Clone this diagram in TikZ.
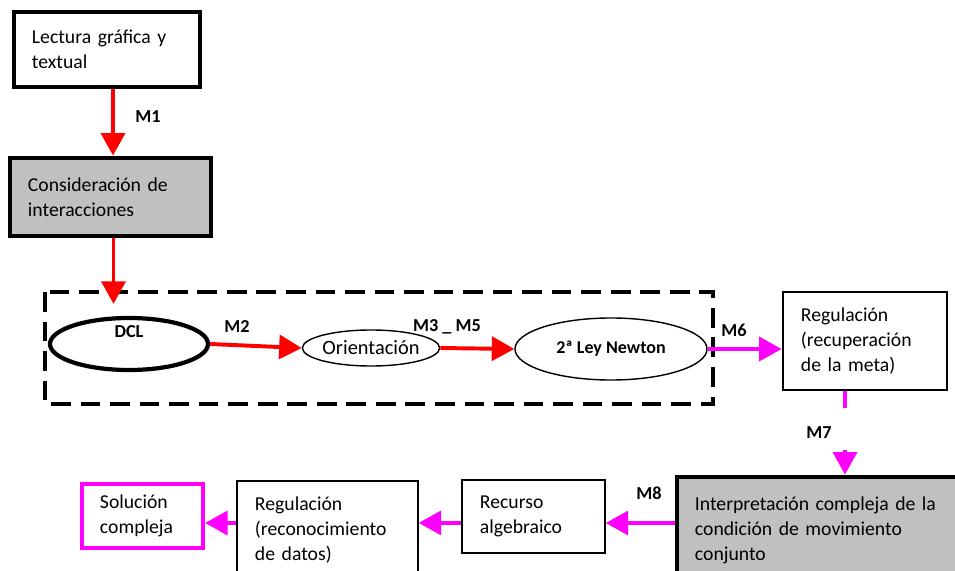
\documentclass[tikz,border=0pt]{standalone}
\usepackage{fontspec}
\setmainfont{Carlito}
\usepackage{xcolor}
\usetikzlibrary{shapes,arrows.meta,positioning,calc}
\definecolor{flowred}{RGB}{255,0,0}
\definecolor{flowpink}{RGB}{255,0,255}
\definecolor{boxgray}{RGB}{192,192,192}

\tikzset{
	textbox/.style={draw, rectangle, align=left, inner xsep=0.45cm, inner ysep=0pt,
		font=\fontsize{14pt}{17.7pt}\selectfont},
	stage/.style={draw, ellipse, inner sep=0pt},
	redarrow/.style={line width=2.8pt, flowred, -{Triangle[length=16pt,width=17pt]}},
	pinkarrow/.style={line width=2.8pt, flowpink, -{Triangle[length=16pt,width=17pt]}},
	mlabel/.style={font=\fontsize{13pt}{15pt}\selectfont\bfseries}
}

\begin{document}
\begin{tikzpicture}[x=0.025cm, y=-0.025cm]
				\clip (0,0) rectangle (955,571);
				\fill[white] (0,0) rectangle (955,571);

				% Boxes of the upper chain
				\node[textbox, line width=3.5pt, minimum width=4.65cm, minimum height=1.875cm, text width=3.75cm] (lectura) at (107,49.5) {Lectura gráfica y\\textual};
				\node[textbox, line width=3.5pt, fill=boxgray, minimum width=5.025cm, minimum height=1.95cm, text width=4.125cm] (consid) at (110.5,197) {Consideración de\\interacciones};

				% Dashed frame with the three stages
				\draw[line width=3.5pt, dash pattern=on 14pt off 7pt] (45,292) rectangle (713,404);
				\node[stage, line width=3pt, minimum width=3.95cm, minimum height=1.3cm, text height=0.2cm, text depth=0.5cm,
					font=\fontsize{13pt}{15pt}\selectfont\bfseries] (dcl) at (129,344) {DCL};
				\node[stage, line width=1pt, minimum width=3.3cm, minimum height=0.9cm,
					font=\fontsize{14.5pt}{16pt}\selectfont] (orient) at (371,348) {Orientación};
				\node[stage, line width=1pt, minimum width=4.8cm, minimum height=1.55cm,
					font=\fontsize{12.8pt}{14pt}\selectfont\bfseries] (newton) at (611,349) {2ª Ley Newton};

				\node[textbox, line width=2pt, minimum width=4.1cm, minimum height=2.45cm, text width=3.2cm] (reg1) at (865,341) {Regulación\\(recuperación\\de la meta)};

				% Boxes of the lower chain
				\node[textbox, line width=3.5pt, fill=boxgray, minimum width=7.575cm, minimum height=2.65cm, text width=6.675cm] (interp) at (828.5,530) {Interpretación compleja de la\\condición de movimiento\\conjunto};
				\node[textbox, line width=1pt, minimum width=3.575cm, minimum height=1.825cm, text width=2.675cm] (recurso) at (533.5,516.5) {Recurso\\algebraico};
				\node[textbox, line width=1pt, minimum width=4.525cm, minimum height=2.45cm, text width=3.625cm] (reg2) at (327.5,530) {Regulación\\(reconocimiento\\de datos)};
				\node[textbox, draw=flowpink, line width=3pt, minimum width=3.025cm, minimum height=1.6cm, text width=2.125cm] (sol) at (142.5,516) {Solución\\compleja};

				% Red connections
				\draw[redarrow] ([xshift=0.15cm]lectura.south) -- ([xshift=0.15cm]lectura.south |- consid.north);
				\draw[redarrow, shorten >=0.3cm] ([xshift=0.075cm]consid.south) -- ([xshift=0.075cm]consid.south |- dcl.north);
				\draw[redarrow] (dcl.east) -- (orient.west);
				\draw[redarrow] (orient.east) -- (newton.west);

				% Pink connections
				\coordinate (m7a) at (845,408);
				\coordinate (m7b) at (845,450);
				\draw[pinkarrow] (newton.east) -- (newton.east -| reg1.west);
				\draw[line width=2.8pt, flowpink] (m7a |- reg1.south) -- (m7a);
				\draw[pinkarrow] (m7b) -- (m7b |- interp.north);
				\draw[pinkarrow] ([yshift=0.175cm]interp.west) -- ([yshift=0.175cm]interp.west -| recurso.east);
				\draw[pinkarrow] ([yshift=-0.16cm]recurso.west) -- ([yshift=-0.16cm]recurso.west -| reg2.east);
				\draw[pinkarrow] ([yshift=0.175cm]reg2.west) -- ([yshift=0.175cm]reg2.west -| sol.east);

				% Step labels
				\node[mlabel] (m1) at (148,117) {M1};
				\node[mlabel] (m2) at (237,327) {M2};
				\node[mlabel] (m35) at (447,327) {M3 \_ M5};
				\node[mlabel] (m6) at (734,330) {M6};
				\node[mlabel] (m7) at (819,433) {M7};
				\node[mlabel] (m8) at (649,493) {M8};
			\end{tikzpicture}
\end{document}
